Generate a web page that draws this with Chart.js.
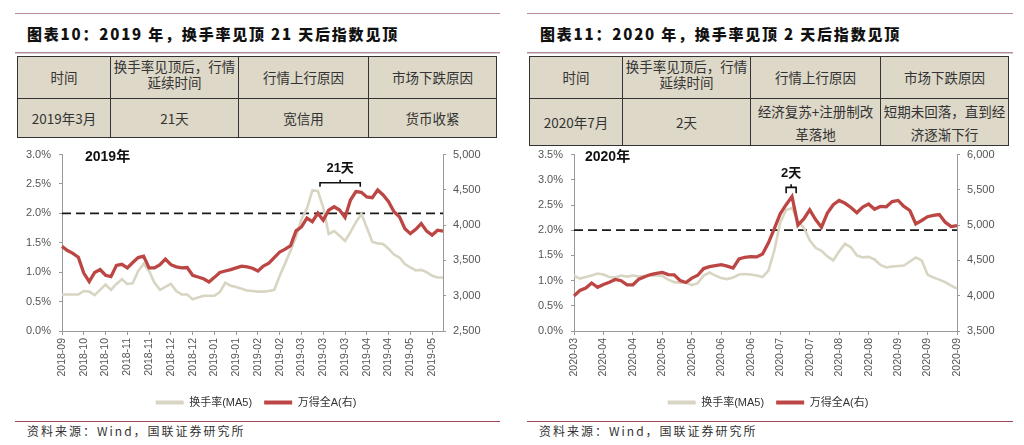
<!DOCTYPE html>
<html><head><meta charset="utf-8">
<script src="https://cdn.jsdelivr.net/npm/chart.js@4/dist/chart.umd.min.js"></script>
<style>
body{margin:0;width:1024px;height:445px;background:#fff;position:relative;overflow:hidden;font-family:'Noto Sans CJK SC',sans-serif;}
.hl{position:absolute;height:1px;}
.title{position:absolute;top:24px;font-weight:900;font-size:15px;letter-spacing:1.8px;color:#111;line-height:20px;white-space:nowrap;}
.tb{position:absolute;top:56px;width:479px;height:81px;border-collapse:collapse;table-layout:fixed;background:#ddd8c8;}
.tb td{border:1.6px solid #333;padding:0;text-align:center;vertical-align:middle;font-size:13.5px;color:#333;line-height:17px;white-space:nowrap;overflow:visible;}
.two{line-height:16px;position:relative;top:-4px;}
.two2{line-height:23px;position:relative;top:1px;}
.src{position:absolute;top:423px;font-size:12px;letter-spacing:2px;color:#333;line-height:16px;white-space:nowrap;}
canvas{position:absolute;top:140px;}
</style></head>
<body>
<div class="hl" style="left:15px;top:13px;width:485px;background:#b88a98"></div>
<div class="hl" style="left:527px;top:13px;width:486px;background:#b88a98"></div>
<div class="title" style="left:27px">图表10：2019 年，换手率见顶 21 天后指数见顶</div>
<div class="title" style="left:540px">图表11：2020 年，换手率见顶 2 天后指数见顶</div>
<div class="hl" style="left:15px;top:52px;width:485px;background:#b88a98"></div>
<div class="hl" style="left:15px;top:53px;width:485px;background:#cfcfcf"></div>
<div class="hl" style="left:527px;top:52px;width:486px;background:#b88a98"></div>
<div class="hl" style="left:527px;top:53px;width:486px;background:#cfcfcf"></div>

<table class="tb" style="left:17px">
<colgroup><col style="width:93px"><col style="width:128px"><col style="width:130px"><col style="width:128px"></colgroup>
<tr style="height:42px"><td>时间</td><td><div class="two">换手率见顶后，行情<br>延续时间</div></td><td>行情上行原因</td><td>市场下跌原因</td></tr>
<tr style="height:39px"><td>2019年3月</td><td>21天</td><td>宽信用</td><td>货币收紧</td></tr>
</table>
<table class="tb" style="left:529px">
<colgroup><col style="width:93px"><col style="width:128px"><col style="width:130px"><col style="width:128px"></colgroup>
<tr style="height:42px"><td>时间</td><td><div class="two">换手率见顶后，行情<br>延续时间</div></td><td>行情上行原因</td><td>市场下跌原因</td></tr>
<tr style="height:39px"><td>2020年7月</td><td>2天</td><td><div class="two2">经济复苏+注册制改<br>革落地</div></td><td><div class="two2">短期未回落，直到经<br>济逐渐下行</div></td></tr>
</table>

<canvas id="c1" width="512" height="278" style="left:0px"></canvas>
<canvas id="c2" width="512" height="278" style="left:512px"></canvas>

<div class="hl" style="left:15px;top:421px;width:485px;background:#a04858"></div>
<div class="hl" style="left:527px;top:421px;width:486px;background:#a04858"></div>
<div class="src" style="left:27px">资料来源：Wind，国联证券研究所</div>
<div class="src" style="left:539px">资料来源：Wind，国联证券研究所</div>

<script>
// ---------- data: 2019 panel ----------
const ticks2019 = ['2018-09','2018-10','2018-10','2018-11','2018-11','2018-12','2018-12','2019-01','2019-01','2019-02','2019-02','2019-03','2019-03','2019-03','2019-04','2019-04','2019-05','2019-05'];
const turnover2019 = [0.62,0.62,0.62,0.62,0.68,0.67,0.61,0.70,0.79,0.70,
  0.80,0.88,0.80,0.81,1.02,1.14,1.02,0.82,0.70,0.75,
  0.80,0.68,0.62,0.62,0.54,0.57,0.60,0.60,0.60,0.66,
  0.82,0.77,0.75,0.72,0.69,0.68,0.67,0.67,0.68,0.70,
  0.94,1.15,1.37,1.60,1.90,2.08,2.39,2.38,2.10,1.65,
  1.70,1.62,1.53,1.68,1.85,1.99,1.76,1.52,1.49,1.48,
  1.40,1.30,1.25,1.14,1.08,1.03,1.04,1.00,0.94,0.91,
  0.91];
const windA2019 = [3700,3640,3600,3545,3320,3200,3330,3370,3290,3270,
  3430,3445,3395,3470,3540,3560,3395,3395,3440,3520,
  3440,3410,3395,3400,3290,3265,3240,3195,3260,3330,
  3350,3370,3395,3420,3410,3390,3350,3420,3460,3540,
  3620,3660,3710,3920,3976,4100,4050,4170,4071,4214,
  4261,4214,4110,4356,4475,4465,4400,4390,4499,4428,
  4333,4190,4118,3950,3880,3940,4023,3915,3860,3928,
  3915];
const bracket2019 = {from:47.4, to:54.8, level:2.52, text:'21天'};

// ---------- data: 2020 panel ----------
const ticks2020 = ['2020-03','2020-04','2020-04','2020-05','2020-05','2020-06','2020-06','2020-07','2020-07','2020-08','2020-08','2020-09','2020-09','2020-09'];
const turnover2020 = [1.10,1.04,1.07,1.10,1.14,1.12,1.07,1.06,1.10,1.08,
  1.10,1.08,1.09,1.10,1.10,1.09,1.02,0.97,0.96,0.96,
  0.91,0.95,1.10,1.16,1.10,1.05,1.03,1.06,1.12,1.13,
  1.12,1.10,1.07,1.20,1.60,2.15,2.40,2.44,2.18,2.05,
  1.80,1.65,1.59,1.48,1.40,1.58,1.73,1.66,1.50,1.46,
  1.47,1.42,1.31,1.26,1.28,1.29,1.30,1.38,1.46,1.40,
  1.12,1.06,1.02,0.97,0.90,0.84];
const windA2020 = [3998,4075,4110,4180,4120,4160,4190,4230,4212,4155,
  4155,4235,4270,4300,4316,4330,4300,4297,4215,4188,
  4250,4290,4385,4411,4425,4439,4420,4392,4520,4545,
  4553,4550,4590,4750,4950,5160,5290,5407,5000,5089,
  5217,5080,4971,5170,5290,5350,5310,5250,5175,5255,
  5300,5225,5265,5260,5335,5350,5265,5208,5018,5066,
  5120,5140,5150,5042,4980,4994];
const bracket2020 = {from:36.0, to:37.7, level:2.85, text:'2天'};

const thresholdLevel = 2.0;

const RED = '#bc4644', GRAY = '#d8d5c3';
const tickFont = {family:"'Liberation Sans','Noto Sans CJK SC'", size:11};

function makeChart(id, ticks, every, turnover, windA, rightMin, rightMax, leftMax, rightWidth, yearLabel, yearOffset, bracket, bracketHeights){
  const labels = turnover.map((_, i) => (i % every === 0 && ticks[i / every] !== undefined) ? ticks[i / every] : '');
  const marks = {
    id: 'marks',
    beforeDatasetsDraw(chart){
      const {ctx, chartArea:a, scales:{y}} = chart;
      const py = y.getPixelForValue(thresholdLevel);
      ctx.save();
      ctx.strokeStyle = '#1a1a1a'; ctx.lineWidth = 1.8; ctx.setLineDash([9,5]);
      ctx.beginPath(); ctx.moveTo(a.left, py); ctx.lineTo(a.right, py); ctx.stroke();
      ctx.restore();
    },
    afterDatasetsDraw(chart){
      const {ctx, chartArea:a, scales:{x, y}} = chart;
      ctx.save();
      ctx.fillStyle = '#111';
      ctx.font = "bold 14px 'Liberation Sans','Noto Sans CJK SC'";
      ctx.textBaseline = 'middle'; ctx.textAlign = 'left';
      ctx.fillText(yearLabel, a.left + yearOffset, a.top + 3);
      const x1 = x.getPixelForValue(bracket.from), x2 = x.getPixelForValue(bracket.to);
      const yb = y.getPixelForValue(bracket.level);
      const xm = (x1 + x2) / 2;
      ctx.strokeStyle = '#111'; ctx.lineWidth = 1.6;
      ctx.beginPath();
      ctx.moveTo(x1, yb + bracketHeights[0]); ctx.lineTo(x1, yb); ctx.lineTo(x2, yb); ctx.lineTo(x2, yb + bracketHeights[0]);
      ctx.moveTo(xm, yb); ctx.lineTo(xm, yb - bracketHeights[1]);
      ctx.stroke();
      ctx.font = "bold 13px 'Liberation Sans','Noto Sans CJK SC'";
      ctx.textAlign = 'center';
      ctx.fillText(bracket.text, xm, yb - bracketHeights[2]);
      ctx.restore();
    }
  };
  return new Chart(document.getElementById(id), {
    type: 'line',
    data: {
      labels,
      datasets: [
        {label:'换手率(MA5)', data: turnover, yAxisID:'y', borderColor: GRAY, backgroundColor: GRAY, borderWidth: 2.6, pointRadius: 0, tension: 0, order: 2},
        {label:'万得全A(右)', data: windA, yAxisID:'y1', borderColor: RED, backgroundColor: RED, borderWidth: 3.3, pointRadius: 0, tension: 0, order: 1}
      ]
    },
    options: {
      responsive: false, animation: false, devicePixelRatio: 1,
      layout: {padding: {top: 14, left: 0, right: 0, bottom: 0}},
      plugins: {
        legend: {
          position: 'bottom',
          labels: {
            boxWidth: 28, boxHeight: 4, padding: 12, color: '#333',
            font: {family:"'Liberation Sans','Noto Sans CJK SC'", size: 11},
            generateLabels: (chart) => chart.data.datasets.map((ds, i) => ({text: ds.label, fillStyle: ds.borderColor, strokeStyle: ds.borderColor, lineWidth: 0, hidden: false, datasetIndex: i, fontColor: '#333'}))
          }
        },
        tooltip: {enabled: false}
      },
      scales: {
        x: {
          type: 'category',
          offset: false,
          afterFit(s){ s.height = 54; },
          grid: {drawOnChartArea: false, drawTicks: true, tickLength: 4, color: '#999'},
          border: {display: true, color: '#999', width: 1},
          ticks: {
            autoSkip: false, maxRotation: 90, minRotation: 90, padding: 3, color: '#555',
            font: {family:"'Liberation Sans'", size: 10.5},
            callback(v){ const l = this.getLabelForValue(v); return l === '' ? null : l; }
          }
        },
        y: {
          position: 'left', min: 0, max: leftMax,
          afterFit(s){ s.width = 62; },
          grid: {drawOnChartArea: false, drawTicks: true, tickLength: 3, color: '#999'},
          border: {display: true, color: '#999'},
          ticks: {stepSize: 0.5, padding: 8, color: '#555', font: tickFont, callback: v => v.toFixed(1) + '%'}
        },
        y1: {
          position: 'right', min: rightMin, max: rightMax,
          afterFit(s){ s.width = rightWidth; },
          grid: {drawOnChartArea: false, drawTicks: true, tickLength: 3, color: '#999'},
          border: {display: true, color: '#999'},
          ticks: {stepSize: 500, padding: 7, color: '#555', font: tickFont, callback: v => v.toLocaleString('en-US')}
        }
      }
    },
    plugins: [marks]
  });
}

makeChart('c1', ticks2019, 4, turnover2019, windA2019, 2500, 5000, 3.0, 69, '2019年', 23, bracket2019, [4, 3, 14]);
makeChart('c2', ticks2020, 5, turnover2020, windA2020, 3500, 6000, 3.5, 67, '2020年', 11, bracket2020, [6, 3, 14]);
</script>
</body></html>
